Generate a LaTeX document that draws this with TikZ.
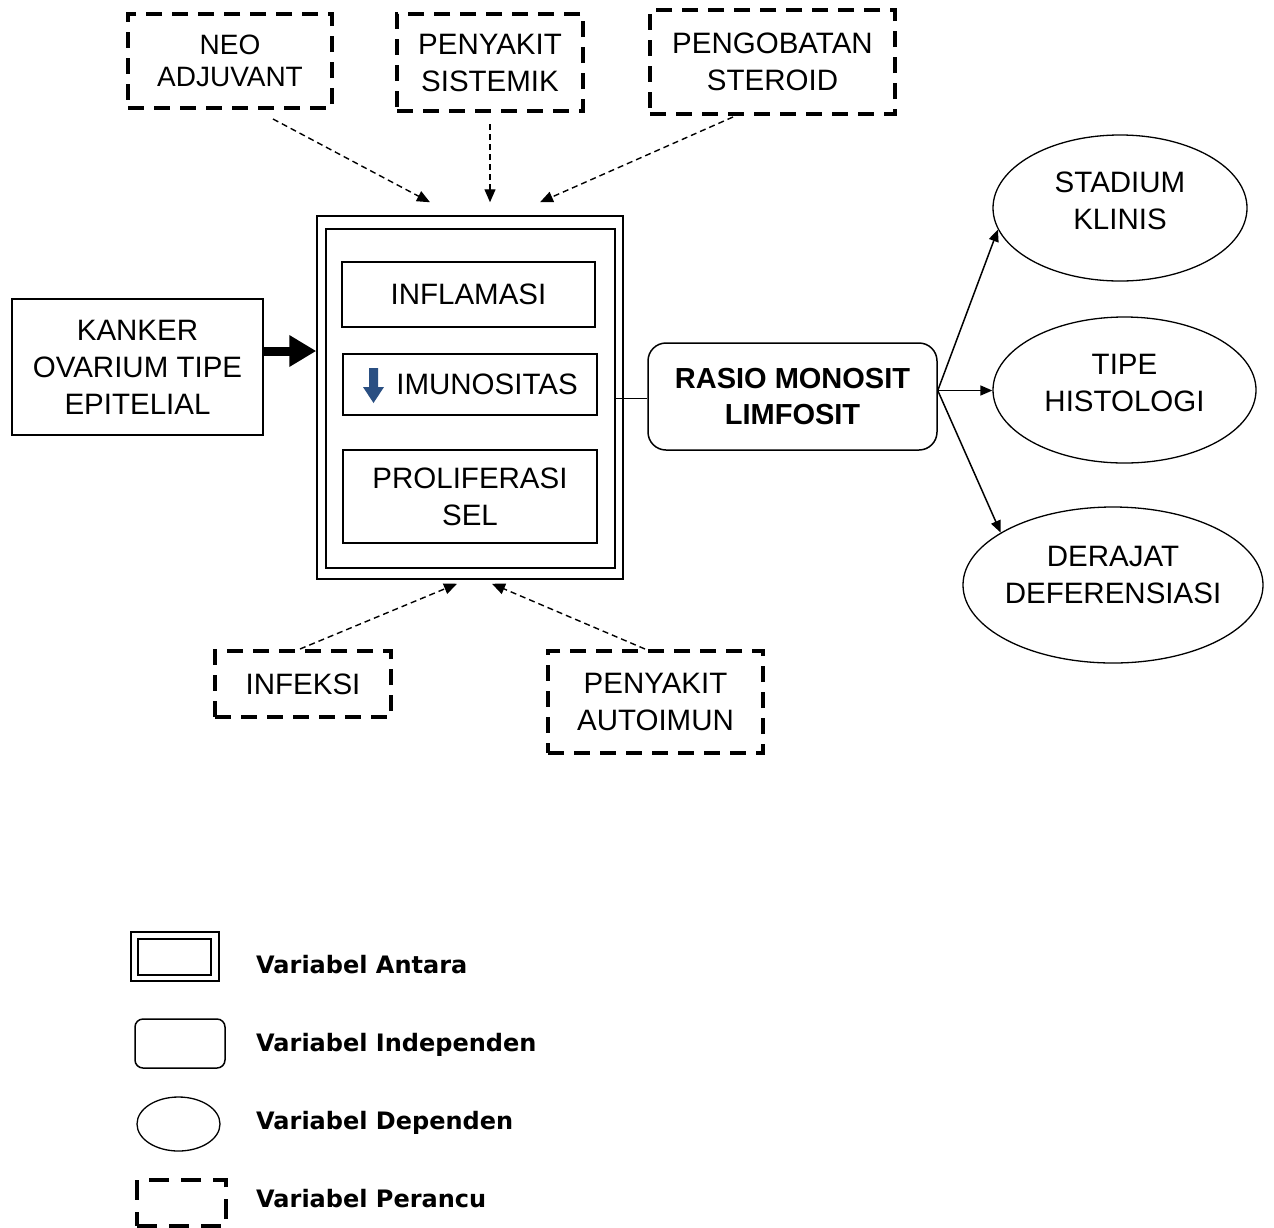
\documentclass[tikz,border=0pt]{standalone}
\usepackage{fontspec}
\setmainfont{Liberation Sans}
\newfontfamily\legfont{DejaVu Sans}
\usetikzlibrary{arrows.meta,shapes.geometric,calc}
\definecolor{arrblue}{HTML}{2A4F82}
\begin{document}
\begin{tikzpicture}[x=1pt,y=-1pt,
  txt/.style={font=\fontsize{29.5}{37}\selectfont, align=center, inner sep=0pt, text=black},
  solidbox/.style={txt, draw, line width=1.5pt, rectangle},
  confbox/.style={txt, draw, line width=4pt, dash pattern=on 16pt off 10pt},
  dep/.style={draw, ellipse, line width=1.3pt, inner sep=0pt},
  deplabel/.style={txt},
  darr/.style={line width=1.4pt, dash pattern=on 6pt off 4pt, -{Triangle[length=13pt,width=11pt]}},
  sarr/.style={line width=1.5pt, -{Triangle[length=12pt,width=10pt]}},
  legtxt/.style={font=\legfont\bfseries\fontsize{24}{28}\selectfont, anchor=base west, inner sep=0pt}
]
\useasboundingbox (0,0) rectangle (1274,1227);

% confounders
\node[confbox, font=\fontsize{28}{32}\selectfont, minimum width=204pt, minimum height=94pt] (neo) at (230,61) {NEO\\ADJUVANT};
\node[confbox, minimum width=186pt, minimum height=97pt] (sist) at (490,62.5) {PENYAKIT\\SISTEMIK};
\node[confbox, minimum width=245pt, minimum height=104pt] (ster) at (772.5,62) {PENGOBATAN\\STEROID};
\node[confbox, minimum width=176pt, minimum height=66pt] (inf) at (303,684) {INFEKSI};
\node[confbox, minimum width=215pt, minimum height=102pt] (auto) at (655.5,702) {PENYAKIT\\AUTOIMUN};

% intermediate
\node[solidbox, minimum width=306pt, minimum height=363pt] (outer) at (470,397.5) {};
\node[solidbox, minimum width=289pt, minimum height=339pt] (inner) at (470.5,398.5) {};
\node[solidbox, minimum width=253pt, minimum height=65pt] (infl) at (468.5,294.5) {INFLAMASI};
\node[solidbox, minimum width=254pt, minimum height=61pt] (imun) at (470,384.5) {\hspace*{34pt}IMUNOSITAS};
\fill[arrblue] (369,368) -- (378,368) -- (378,387) -- (384,387) -- (373.5,403) -- (363,387) -- (369,387) -- cycle;
\node[solidbox, minimum width=254pt, minimum height=93pt] (prol) at (470,496.5) {PROLIFERASI\\SEL};

% independent
\node[solidbox, minimum width=251pt, minimum height=136pt] (kank) at (137.5,367) {KANKER\\OVARIUM TIPE\\EPITELIAL};
\node[solidbox, rounded corners=18pt, font=\bfseries\fontsize{29}{36}\selectfont, minimum width=289pt, minimum height=107pt] (rasio) at (792.5,396.5) {RASIO MONOSIT\\LIMFOSIT};

% dependent
\node[dep, minimum width=254pt, minimum height=146pt, label={[deplabel,yshift=7pt]center:STADIUM\\KLINIS}] (stad) at (1120,208) {};
\node[dep, minimum width=263pt, minimum height=146pt, label={[deplabel,yshift=7pt]center:TIPE\\HISTOLOGI}] (tipe) at (1124.5,390) {};
\node[dep, minimum width=300pt, minimum height=156pt, label={[deplabel,yshift=10pt]center:DERAJAT\\DEFERENSIASI}] (der) at (1113,585) {};

% connectors
\draw[line width=9pt, -{Triangle[length=27pt,width=30pt]}] ([yshift=16pt]kank.east) -- ([yshift=46.5pt]outer.west);
\draw[line width=1.5pt] (inner.east) -- (inner.east -| rasio.west);
\coordinate (rs) at ([yshift=6pt]rasio.east);
\draw[sarr] (rs) -- (stad.190);
\draw[sarr] (rs) -- (rs -| tipe.west);
\draw[sarr] (rs) -- (der.155);

\draw[darr] ([xshift=43pt,yshift=-9pt]neo.south) -- ([xshift=-40pt,yshift=13pt]outer.north);
\draw[darr] ([yshift=-11pt]sist.south) -- ([xshift=20pt,yshift=13pt]outer.north);
\draw[darr] ([xshift=-39.5pt,yshift=-1pt]ster.south) -- ([xshift=70pt,yshift=13pt]outer.north);
\draw[darr] ([xshift=-3pt]inf.north) -- ([xshift=-13pt,yshift=-4pt]outer.south);
\draw[darr] ([xshift=-10.5pt]auto.north) -- ([xshift=22pt,yshift=-4pt]outer.south);

% legend
\node[draw, line width=2pt, minimum width=88pt, minimum height=49pt, inner sep=0pt] (l1o) at (175,956.5) {};
\node[draw, line width=2pt, minimum width=73pt, minimum height=36pt, inner sep=0pt] (l1i) at (174.5,957) {};
\node[draw, line width=1.5pt, rounded corners=8pt, minimum width=90pt, minimum height=49pt, inner sep=0pt] (l2) at (180,1043.5) {};
\node[dep, minimum width=83pt, minimum height=54pt] (l3) at (178.5,1124) {};
\node[draw, line width=4pt, dash pattern=on 20pt off 12pt, minimum width=89pt, minimum height=46pt, inner sep=0pt] (l4) at (181.5,1203) {};
\node[legtxt] (t1) at (256,973) {Variabel Antara};
\node[legtxt] (t2) at (256,1051) {Variabel Independen};
\node[legtxt] (t3) at (256,1129) {Variabel Dependen};
\node[legtxt] (t4) at (256,1207) {Variabel Perancu};
\end{tikzpicture}
\end{document}
